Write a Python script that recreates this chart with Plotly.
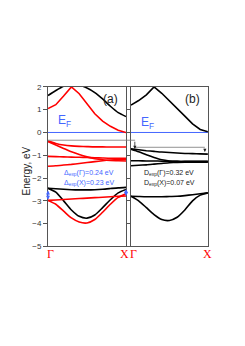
import plotly.graph_objects as go

k = [0, 0.1, 0.2, 0.3, 0.4, 0.5, 0.6, 0.7, 0.8, 0.9, 1.0]

# Panel (a)
a_black_top = [1.62, 1.84, 2.03, 2.12, 2.08, 1.95, 1.75, 1.47, 1.15, 0.87, 0.70]
a_red_top = [1.05, 1.22, 1.6, 2.0, 1.7, 1.25, 0.82, 0.5, 0.27, 0.1, 0.0]
a_red_A = [-0.38, -0.48, -0.55, -0.59, -0.61, -0.62, -0.63, -0.63, -0.64, -0.64, -0.64]
a_red_B = [-0.40, -0.55, -0.70, -0.85, -0.97, -1.07, -1.15, -1.20, -1.23, -1.24, -1.25]
a_red_C = [-1.05, -1.06, -1.07, -1.08, -1.09, -1.10, -1.11, -1.12, -1.13, -1.13, -1.13]
a_red_D = [-1.48, -1.46, -1.43, -1.40, -1.36, -1.32, -1.28, -1.24, -1.21, -1.19, -1.18]
a_black_flat = [-2.45, -2.47, -2.49, -2.51, -2.52, -2.52, -2.51, -2.49, -2.46, -2.43, -2.41]
a_black_disp = [-2.45, -2.62, -3.0, -3.4, -3.68, -3.76, -3.62, -3.3, -2.95, -2.65, -2.5]
a_red_flat = [-2.98, -2.96, -2.94, -2.92, -2.90, -2.88, -2.86, -2.84, -2.82, -2.80, -2.79]
a_red_disp = [-2.98, -3.15, -3.45, -3.75, -3.93, -3.97, -3.82, -3.5, -3.15, -2.85, -2.69]

# Panel (b)
b_top = [1.2, 1.4, 1.65, 2.0, 1.72, 1.4, 1.07, 0.72, 0.38, 0.13, 0.03]
b_1 = [-0.72, -0.76, -0.80, -0.83, -0.86, -0.88, -0.90, -0.92, -0.93, -0.94, -0.95]
b_2 = [-0.74, -0.85, -0.98, -1.10, -1.20, -1.25, -1.27, -1.28, -1.28, -1.28, -1.28]
b_3 = [-1.24, -1.24, -1.25, -1.25, -1.26, -1.26, -1.27, -1.27, -1.27, -1.27, -1.27]
b_4 = [-1.46, -1.44, -1.42, -1.39, -1.36, -1.33, -1.31, -1.30, -1.30, -1.30, -1.30]
b_flat = [-2.80, -2.81, -2.82, -2.82, -2.82, -2.81, -2.80, -2.77, -2.73, -2.69, -2.65]
b_disp = [-2.80, -3.0, -3.3, -3.6, -3.82, -3.86, -3.72, -3.4, -3.0, -2.75, -2.65]

y_ticks = [2, 1, 0, -1, -2, -3, -4, -5]
k_labels = ["Γ", "X"]

RED = "#ff0000"
BLACK = "#000000"
BLUE = "#4466ff"

fig = go.Figure()

def add(xs, ys, color, ax="x", ay="y", w=1.6, shape="spline"):
    fig.add_trace(go.Scatter(x=xs, y=ys, mode="lines", xaxis=ax, yaxis=ay,
                             line=dict(color=color, width=w, shape=shape, smoothing=0.6),
                             showlegend=False, hoverinfo="skip"))

# E_F lines
add([0, 1], [0, 0], BLUE, w=1, shape="linear")
add([0, 1], [0, 0], BLUE, "x2", "y2", w=1, shape="linear")

add(k, a_black_top, BLACK)
add(k, a_red_top, RED, shape="linear")
for s in (a_red_A, a_red_B, a_red_C, a_red_D):
    add(k, s, RED)
add(k, a_black_flat, BLACK)
add(k, a_black_disp, BLACK)
add(k, a_red_flat, RED)
add(k, a_red_disp, RED)

add(k, b_top, BLACK, "x2", "y2", shape="linear")
for s in (b_1, b_2, b_3, b_4):
    add(k, s, BLACK, "x2", "y2")
add(k, b_flat, BLACK, "x2", "y2")
add(k, b_disp, BLACK, "x2", "y2")

axis_common = dict(range=[0, 1], showline=True, mirror=True, linecolor="#555", linewidth=1,
                   showticklabels=False, ticks="", showgrid=False, zeroline=False, fixedrange=True)
yax_common = dict(range=[-5, 2], showline=True, mirror=True, linecolor="#555", linewidth=1,
                  showgrid=False, zeroline=False, tickvals=y_ticks, ticks="outside", ticklen=4,
                  tickcolor="#555")

# page body has an 8px margin: the figure is 8px smaller than the window on each side
fig.update_layout(
    width=229, height=330, margin=dict(l=0, r=0, t=0, b=0),
    paper_bgcolor="white", plot_bgcolor="white",
    xaxis=dict(domain=[0.1747, 0.5153], **axis_common),
    yaxis=dict(domain=[0.2697, 0.7667], anchor="x",
               tickfont=dict(size=8, color="#333", family="Liberation Sans"), **yax_common),
    xaxis2=dict(domain=[0.537, 0.873], anchor="y2", **axis_common),
    yaxis2=dict(domain=[0.2697, 0.7667], anchor="x2", showticklabels=False, **yax_common),
)

shapes = [
    dict(type="line", xref="paper", yref="y", x0=0.1747, x1=0.555, y0=-0.34, y1=-0.34,
         line=dict(color="#777", width=0.8)),
    dict(type="line", xref="x2", yref="y2", x0=0.05, x1=0.96, y0=-0.65, y1=-0.65,
         line=dict(color="#777", width=0.8)),
]
fig.update_layout(shapes=shapes)

ann = []
font = "Liberation Sans"
# arrows in panel b
ann.append(dict(x=0.05, y=-0.72, ax=0.05, ay=-0.34, xref="x2", yref="y2", axref="x2", ayref="y2",
                showarrow=True, arrowhead=2, arrowsize=0.8, arrowwidth=0.8, arrowcolor="#222", text=""))
ann.append(dict(x=0.96, y=-0.86, ax=0.96, ay=-0.65, xref="x2", yref="y2", axref="x2", ayref="y2",
                showarrow=True, arrowhead=2, arrowsize=0.8, arrowwidth=0.8, arrowcolor="#222", text=""))
# blue double arrows panel a
ann.append(dict(x=0.0, y=-2.95, ax=0.0, ay=-2.48, xref="x", yref="y", axref="x", ayref="y",
                showarrow=True, arrowhead=2, startarrowhead=2, arrowside="end+start", arrowsize=0.8,
                arrowwidth=1, arrowcolor=BLUE, text=""))
ann.append(dict(x=1.0, y=-2.78, ax=1.0, ay=-2.43, xref="x", yref="y", axref="x", ayref="y",
                showarrow=True, arrowhead=2, startarrowhead=2, arrowside="end+start", arrowsize=0.8,
                arrowwidth=1, arrowcolor=BLUE, text=""))

def txt(x, y, s, xref, yref, size, color, xanchor="center", family=font):
    ann.append(dict(x=x, y=y, text=s, xref=xref, yref=yref, showarrow=False,
                    font=dict(size=size, color=color, family=family), xanchor=xanchor, yanchor="middle"))

txt(0.8, 1.45, "(a)", "x", "y", 12, "#222")
txt(0.8, 1.45, "(b)", "x2", "y2", 12, "#222")
txt(0.1, 0.52, "E<sub>F</sub>", "x", "y", 12, BLUE, "left")
txt(0.1, 0.42, "E<sub>F</sub>", "x2", "y2", 12, BLUE, "left")
txt(0.52, -1.77, "Δ<sub>exp</sub>(Γ)=0.24 eV", "x", "y", 7, BLUE)
txt(0.52, -2.22, "Δ<sub>exp</sub>(X)=0.23 eV", "x", "y", 7, BLUE)
txt(0.5, -1.77, "D<sub>exp</sub>(Γ)=0.32 eV", "x2", "y2", 7, "#222")
txt(0.5, -2.22, "D<sub>exp</sub>(X)=0.07 eV", "x2", "y2", 7, "#222")
serif = "Liberation Serif"
txt(0.03, 0.245, k_labels[0], "x", "paper", 12, RED, family=serif)
txt(0.985, 0.245, k_labels[1], "x", "paper", 12, RED, family=serif)
txt(0.03, 0.245, k_labels[0], "x2", "paper", 12, RED, family=serif)
txt(0.99, 0.245, k_labels[1], "x2", "paper", 12, RED, family=serif)
ann.append(dict(x=0.083, y=0.503, xref="paper", yref="paper", text="Energy, eV", textangle=-90,
                xanchor="center", yanchor="middle",
                showarrow=False, font=dict(size=10, color="#222", family=font)))
fig.update_layout(annotations=ann)

fig.write_html("out.html")
